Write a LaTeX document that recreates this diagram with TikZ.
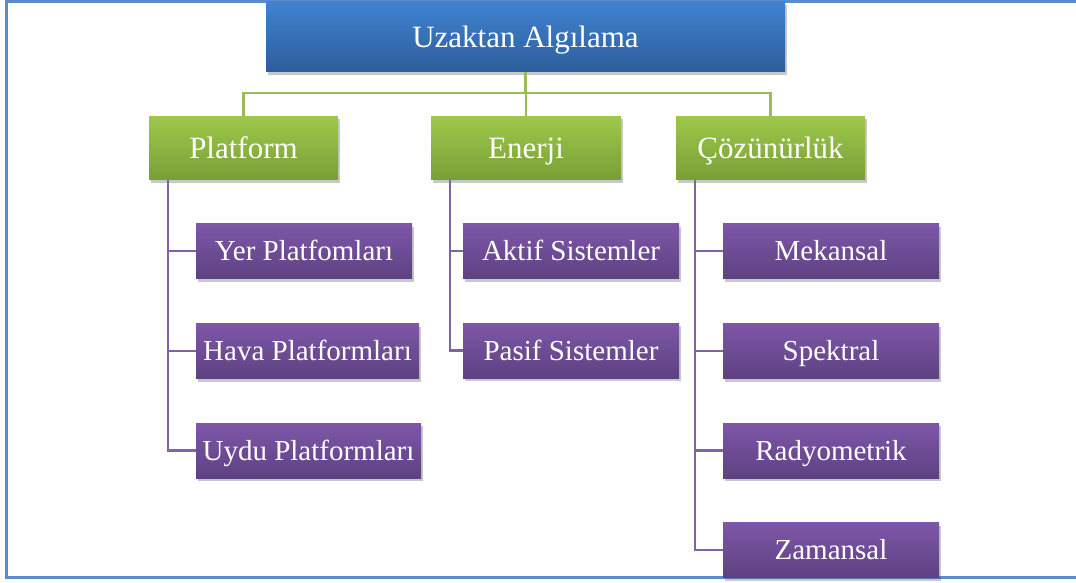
\documentclass[tikz,border=0pt]{standalone}
\usepackage{fontspec}
\setmainfont{Liberation Serif}
\usetikzlibrary{shadows}
\definecolor{frameblue}{RGB}{92,139,201}
\definecolor{bluetop}{RGB}{64,130,208}
\definecolor{bluebot}{RGB}{45,94,156}
\definecolor{greentop}{RGB}{158,200,74}
\definecolor{greenbot}{RGB}{120,159,55}
\definecolor{purptop}{RGB}{126,87,168}
\definecolor{purpbot}{RGB}{94,65,130}
\definecolor{glinec}{RGB}{155,187,89}
\definecolor{plinec}{RGB}{128,100,162}
\tikzset{
  box/.style={rectangle, inner sep=0pt, text=white, align=center, text depth=0pt,
    drop shadow={shadow xshift=2pt, shadow yshift=-3pt, opacity=0.3, fill=black!70}},
  rootbox/.style={box, top color=bluetop, bottom color=bluebot,
    font=\fontsize{31}{31}\selectfont, text height=20.5pt},
  catbox/.style={box, top color=greentop, bottom color=greenbot,
    minimum width=189pt, minimum height=63pt, font=\fontsize{31}{31}\selectfont,
    text height=20.5pt},
  leafbox/.style={box, top color=purptop, bottom color=purpbot,
    minimum height=55pt, font=\fontsize{29}{29}\selectfont, text height=19.2pt},
  gline/.style={draw=glinec, line width=2.4pt},
  pline/.style={draw=plinec, line width=2.4pt},
  framebox/.style={draw=frameblue, line width=2.6pt}
}
\begin{document}
\begin{tikzpicture}[x=1pt,y=-1pt]
\clip (0,0) rectangle (1076,583);
\fill[white] (0,0) rectangle (1076,583);
% outer frame, open on the right
\draw[framebox] (1090,1.5) -- (6.5,1.5) -- (6.5,577.5) -- (1090,577.5);

% root
\node[rootbox, minimum width=519pt, minimum height=70pt] (root) at (525.5,37) {Uzaktan Algılama};

% categories
\node[catbox] (plat) at (243.5,148) {Platform};
\node[catbox, minimum width=190pt] (ener) at (526,148) {Enerji};
\node[catbox] (coz)  at (770.5,148) {Çözünürlük};

% leaves of Platform
\node[leafbox, minimum width=216pt] (yer)  at (304,251) {Yer Platfomları};
\node[leafbox, minimum width=223pt] (hava) at (307.5,351) {Hava Platformları};
\node[leafbox, minimum width=225pt] (uydu) at (308.5,450.5) {Uydu Platformları};

% leaves of Enerji
\node[leafbox, minimum width=216pt] (akt) at (571,251) {Aktif Sistemler};
\node[leafbox, minimum width=216pt] (pas) at (571,350.5) {Pasif Sistemler};

% leaves of Çözünürlük
\node[leafbox, minimum width=216pt] (mek) at (831,251) {Mekansal};
\node[leafbox, minimum width=216pt] (spe) at (831,351) {Spektral};
\node[leafbox, minimum width=216pt] (rad) at (831,450.5) {Radyometrik};
\node[leafbox, minimum width=216pt] (zam) at (831,550) {Zamansal};

% green connectors from the root
\coordinate (bus) at (525.5,93);
\draw[gline] (root.south) -- (bus);
\draw[gline] (plat.north) |- (bus) -| (coz.north);
\draw[gline] (ener.north) -- (ener.north |- bus);

% purple trunks and branches
\path (plat.south west) ++(19,0) coordinate (pt);
\path (ener.south west) ++(19,0) coordinate (et);
\path (coz.south west)  ++(19,0) coordinate (ct);
\draw[pline] (pt) |- (uydu.west);
\draw[pline] (pt |- yer.west) -- (yer.west);
\draw[pline] (pt |- hava.west) -- (hava.west);
\draw[pline] (et) |- (pas.west);
\draw[pline] (et |- akt.west) -- (akt.west);
\draw[pline] (ct) |- (zam.west);
\draw[pline] (ct |- mek.west) -- (mek.west);
\draw[pline] (ct |- spe.west) -- (spe.west);
\draw[pline] (ct |- rad.west) -- (rad.west);
\end{tikzpicture}
\end{document}
